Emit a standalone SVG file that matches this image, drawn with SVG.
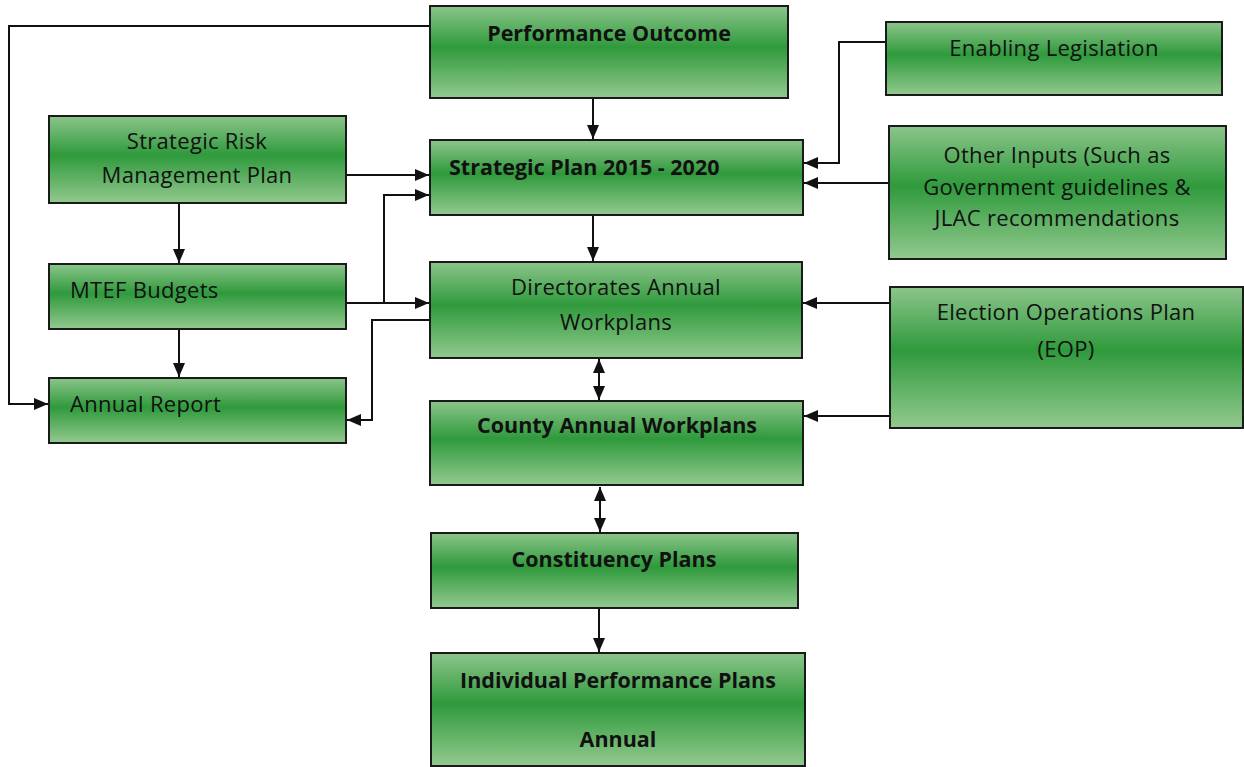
<svg xmlns="http://www.w3.org/2000/svg" width="1244" height="767" viewBox="0 0 1244 767">
<style>
.box{fill:url(#g);stroke:#1a1a1a;stroke-width:2}
.t{font-family:"Open Sans","DejaVu Sans",sans-serif;font-size:22px;letter-spacing:0.3px;fill:#111}
.b{font-weight:bold;font-size:21.5px;letter-spacing:0}
.c{text-anchor:middle}
.ln{fill:none;stroke:#111;stroke-width:2;marker-end:url(#ah)}
.dl{fill:none;stroke:#111;stroke-width:2;marker-end:url(#ah);marker-start:url(#as)}
</style>
<defs>
<linearGradient id="g" x1="0" y1="0" x2="0" y2="1">
<stop offset="0" stop-color="#8cc58b"/>
<stop offset="0.45" stop-color="#2f9a3c"/>
<stop offset="1" stop-color="#93c98f"/>
</linearGradient>
<marker id="ah" viewBox="0 0 14 12" refX="14" refY="6" markerWidth="14" markerHeight="12" markerUnits="userSpaceOnUse" orient="auto">
<path d="M0,0 L14,6 L0,12 z" fill="#111"/>
</marker>
<marker id="as" viewBox="0 0 14 12" refX="0" refY="6" markerWidth="14" markerHeight="12" markerUnits="userSpaceOnUse" orient="auto">
<path d="M14,0 L0,6 L14,12 z" fill="#111"/>
</marker>
</defs>
<g id="connectors">
<polyline class="ln" points="430,26 9,26 9,404 48,404"/>
<line class="ln" x1="593" y1="98" x2="593" y2="139"/>
<line class="ln" x1="346" y1="175" x2="429" y2="175"/>
<polyline class="ln" points="384,303 384,195 429,195"/>
<line class="ln" x1="346" y1="303" x2="429" y2="303"/>
<polyline class="ln" points="430,320 372,320 372,420 347,420"/>
<line class="ln" x1="179" y1="203" x2="179" y2="263"/>
<line class="ln" x1="179" y1="329" x2="179" y2="377"/>
<line class="ln" x1="593" y1="215" x2="593" y2="261"/>
<polyline class="ln" points="886,42 839,42 839,163 804,163"/>
<line class="ln" x1="889" y1="183" x2="804" y2="183"/>
<line class="ln" x1="890" y1="303" x2="803" y2="303"/>
<line class="ln" x1="890" y1="416" x2="804" y2="416"/>
<line class="dl" x1="599" y1="359" x2="599" y2="400"/>
<line class="dl" x1="600" y1="487" x2="600" y2="532"/>
<line class="ln" x1="599" y1="608" x2="599" y2="652"/>
</g>
<g id="performance-outcome"><rect class="box" x="430" y="6" width="358" height="92"/><text class="t b c" x="609" y="41">Performance Outcome</text></g>
<g id="strategic-plan"><rect class="box" x="430" y="140" width="373" height="75"/><text class="t b" x="449" y="175">Strategic Plan 2015 - 2020</text></g>
<g id="enabling-legislation"><rect class="box" x="886" y="22" width="336" height="73"/><text class="t c" x="1054" y="56">Enabling Legislation</text></g>
<g id="other-inputs"><rect class="box" x="889" y="126" width="337" height="133"/><text class="t c" x="1057" y="163">Other Inputs (Such as</text><text class="t c" x="1057" y="195">Government guidelines &amp;</text><text class="t c" x="1057" y="226">JLAC recommendations</text></g>
<g id="strategic-risk"><rect class="box" x="49" y="116" width="297" height="87"/><text class="t c" x="197" y="149">Strategic Risk</text><text class="t c" x="197" y="183">Management Plan</text></g>
<g id="mtef-budgets"><rect class="box" x="49" y="264" width="297" height="65"/><text class="t" x="70" y="298">MTEF Budgets</text></g>
<g id="annual-report"><rect class="box" x="49" y="378" width="297" height="65"/><text class="t" x="70" y="412">Annual Report</text></g>
<g id="directorates"><rect class="box" x="430" y="262" width="372" height="96"/><text class="t c" x="616" y="295">Directorates Annual</text><text class="t c" x="616" y="330">Workplans</text></g>
<g id="county"><rect class="box" x="430" y="401" width="373" height="84"/><text class="t b c" x="617" y="433">County Annual Workplans</text></g>
<g id="eop"><rect class="box" x="890" y="287" width="353" height="141"/><text class="t c" x="1066" y="320">Election Operations Plan</text><text class="t c" x="1066" y="357">(EOP)</text></g>
<g id="constituency"><rect class="box" x="431" y="533" width="367" height="75"/><text class="t b c" x="614" y="567">Constituency Plans</text></g>
<g id="individual"><rect class="box" x="431" y="653" width="374" height="113"/><text class="t b c" x="618" y="688">Individual Performance Plans</text><text class="t b c" x="618" y="747">Annual</text></g>
</svg>
